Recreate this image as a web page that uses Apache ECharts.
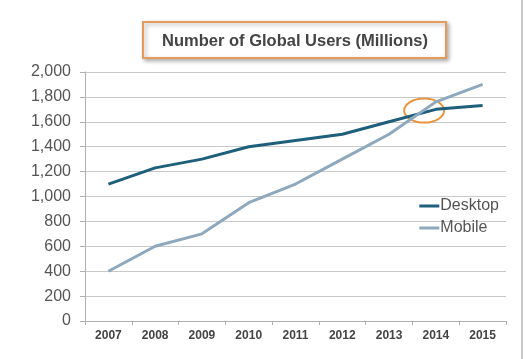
<!DOCTYPE html>
<html><head><meta charset="utf-8">
<script src="https://cdn.jsdelivr.net/npm/echarts@6/dist/echarts.min.js"></script>
<style>html,body{margin:0;padding:0;background:#fff}#c{width:532px;height:359px}</style>
</head><body><div id="c"></div>
<script>
const years = ['2007','2008','2009','2010','2011','2012','2013','2014','2015'];
const desktop = [1100,1230,1300,1400,1450,1500,1600,1700,1730];
const mobile = [400,600,700,950,1100,1300,1500,1760,1900];
const yTicks = [0,200,400,600,800,1000,1200,1400,1600,1800,2000];
const titleText = 'Number of Global Users (Millions)';

const chart = echarts.init(document.getElementById('c'), null, {renderer:'canvas'});
const fmt = v => v.toLocaleString('en-US');
chart.setOption({
  backgroundColor:'#fff',
  animation:false,
  grid:{left:85,right:26,top:72,bottom:38},
  xAxis:{type:'category',data:years,boundaryGap:true,
    axisLine:{lineStyle:{color:'#b0b0b0',width:1}},
    axisTick:{show:true,length:4,lineStyle:{color:'#b0b0b0'}},
    axisLabel:{color:'#444',fontFamily:'Liberation Sans, Arial, sans-serif',fontWeight:'bold',fontSize:12,margin:9}},
  yAxis:{type:'value',min:yTicks[0],max:yTicks[yTicks.length-1],interval:200,
    axisLine:{show:true,lineStyle:{color:'#b0b0b0'}},
    axisTick:{show:true,length:5,lineStyle:{color:'#b0b0b0'}},
    splitLine:{lineStyle:{color:'#c8c8c8',width:1}},
    axisLabel:{color:'#555',fontFamily:'Liberation Sans, Arial, sans-serif',fontSize:16,margin:14,formatter:fmt}},
  legend:{orient:'vertical',right:28,top:193,itemWidth:20,itemHeight:3,itemGap:6,icon:'rect',
    textStyle:{color:'#555',fontFamily:'Liberation Sans, Arial, sans-serif',fontSize:16,padding:[0,0,0,-4]},
    data:['Desktop','Mobile']},
  series:[
    {name:'Desktop',type:'line',data:desktop,symbol:'none',lineStyle:{color:'#1e5f7c',width:3},itemStyle:{color:'#1e5f7c'}},
    {name:'Mobile',type:'line',data:mobile,symbol:'none',lineStyle:{color:'#8ea8bd',width:3},itemStyle:{color:'#8ea8bd'}}
  ]
});
const p13 = chart.convertToPixel({xAxisIndex:0,yAxisIndex:0},['2013',1690]);
const p14 = chart.convertToPixel({xAxisIndex:0,yAxisIndex:0},['2014',1690]);
const cx = p13[0] + (p14[0]-p13[0])*0.75;
chart.setOption({graphic:[
  {type:'rect',shape:{x:143,y:22,width:303,height:36},style:{fill:'#fff',stroke:'#e69a5c',lineWidth:2,shadowBlur:4,shadowColor:'rgba(0,0,0,0.3)',shadowOffsetX:2,shadowOffsetY:2}},
  {type:'text',style:{x:295,y:41,text:titleText,textAlign:'center',textVerticalAlign:'middle',fill:'#444',font:'bold 16.5px "Liberation Sans", Arial, sans-serif'}},
  {type:'ellipse',shape:{cx:cx,cy:p13[1],rx:20,ry:12},style:{fill:'none',stroke:'#e8953e',lineWidth:2}},
  {type:'rect',shape:{x:521,y:0,width:2,height:359},style:{fill:'#c8c8c8'}}
]});
</script></body></html>
